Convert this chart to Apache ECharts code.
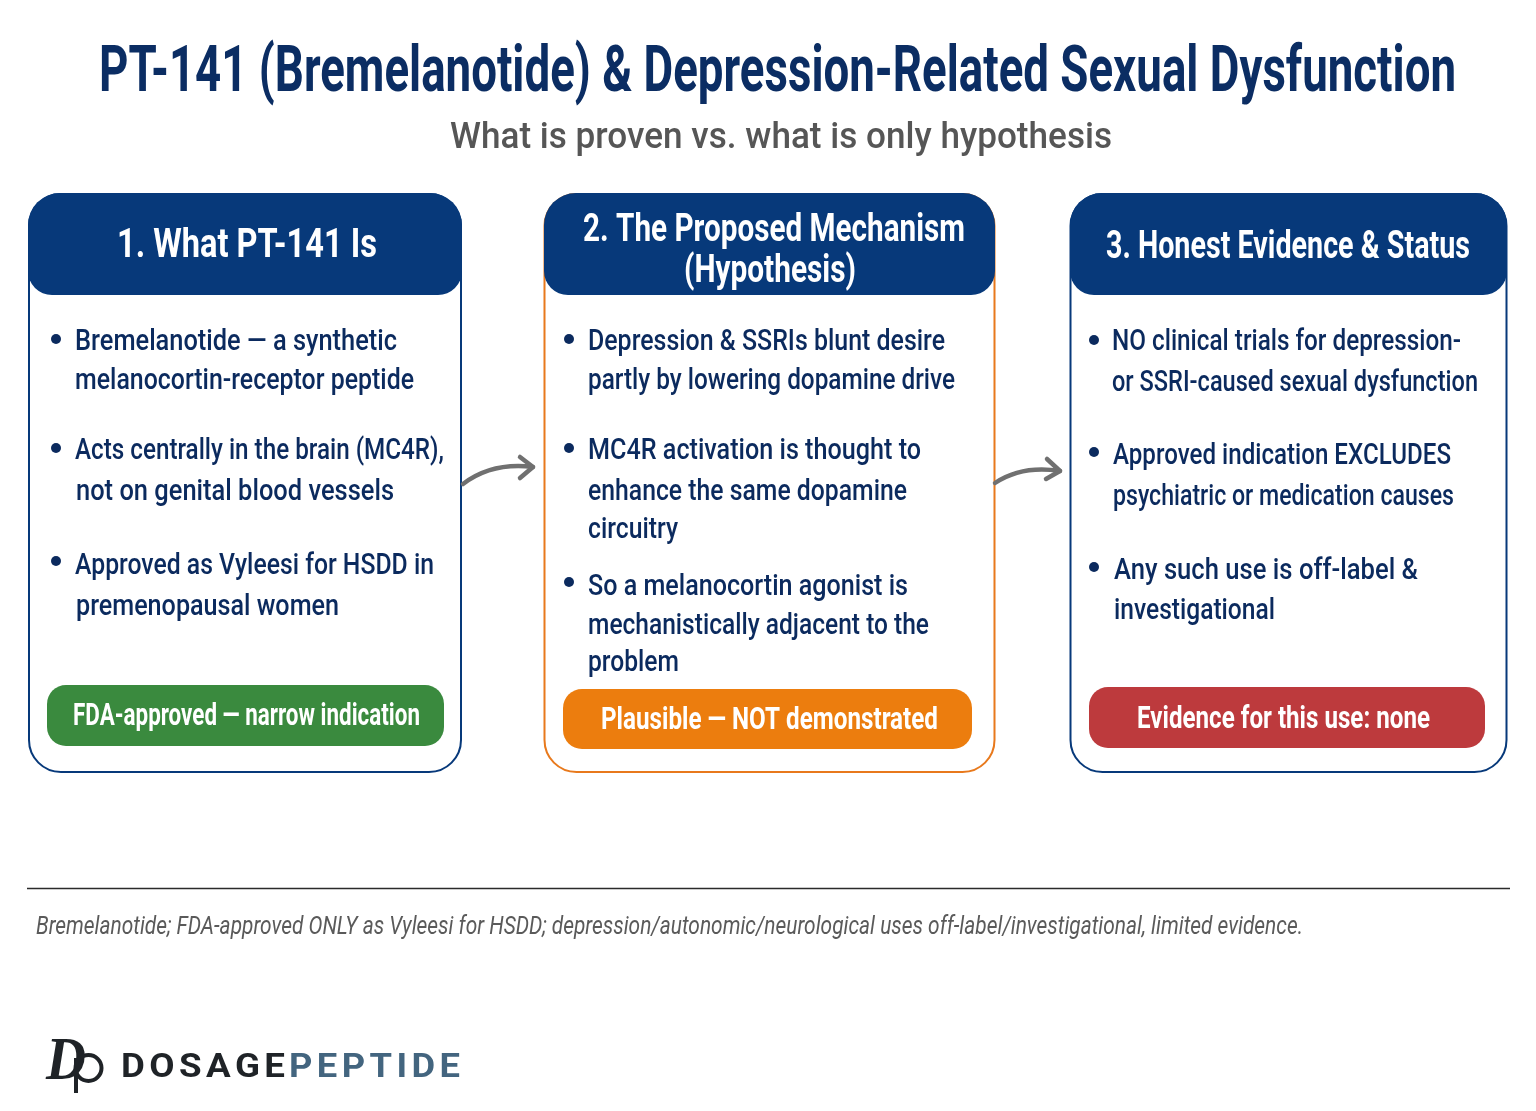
<!DOCTYPE html>
<html><head><meta charset="utf-8">
<style>html,body{margin:0;padding:0;background:#fff}#c{width:1536px;height:1111px}</style>
<script src="https://cdn.jsdelivr.net/npm/echarts@6/dist/echarts.min.js"></script>
</head><body><div id="c"></div>
<script>
const titleText = "PT-141 (Bremelanotide) & Depression-Related Sexual Dysfunction";
const subtitleText = "What is proven vs. what is only hypothesis";
const header1 = ["1. What PT-141 Is"];
const header2 = ["2. The Proposed Mechanism", "(Hypothesis)"];
const header3 = ["3. Honest Evidence & Status"];
const bullets1 = ["Bremelanotide — a synthetic","melanocortin-receptor peptide","Acts centrally in the brain (MC4R),","not on genital blood vessels","Approved as Vyleesi for HSDD in","premenopausal women"];
const bullets2 = ["Depression & SSRIs blunt desire","partly by lowering dopamine drive","MC4R activation is thought to","enhance the same dopamine","circuitry","So a melanocortin agonist is","mechanistically adjacent to the","problem"];
const bullets3 = ["NO clinical trials for depression-","or SSRI-caused sexual dysfunction","Approved indication EXCLUDES","psychiatric or medication causes","Any such use is off-label &","investigational"];
const verdicts = ["FDA-approved — narrow indication","Plausible — NOT demonstrated","Evidence for this use: none"];
const footnote = "Bremelanotide; FDA-approved ONLY as Vyleesi for HSDD; depression/autonomic/neurological uses off-label/investigational, limited evidence.";
const brandDark = "DOSAGE", brandBlue = "PEPTIDE", brandMark = "D";

const NAVY="#07397a", INK="#0b2a5e", ORANGE="#e8791c";
const mc=document.createElement('canvas').getContext('2d');
const els=[];
function fit(text,x0,x1,y,size,weight,color,family,style,spacing,zlevel){
  const f=(style?style+' ':'')+weight+' '+size+'px '+(family||'Roboto');
  mc.font=f;
  const sp=spacing||0;
  const w=mc.measureText(text).width+sp*(text.length-1);
  els.push({type:'text',x:x0,y:y,scaleX:(x1-x0)/w,originX:0,originY:0,silent:true,zlevel:zlevel||0,
    style:{text:text,font:f,fill:color,textAlign:'left',textVerticalAlign:'middle',textBaseline:'middle'}});
}
function card(x,y,w,h,stroke){
  els.push({type:'rect',shape:{x,y,width:w,height:h,r:32},style:{fill:'#fff',stroke,lineWidth:2}});
}
function head(x,y,w,h){
  els.push({type:'rect',shape:{x,y,width:w,height:h,r:[32,32,24,24]},style:{fill:NAVY}});
}
function pill(x,y,w,h,fill){
  els.push({type:'rect',shape:{x,y,width:w,height:h,r:19},style:{fill}});
}
function dot(x,y){els.push({type:'circle',shape:{cx:x,cy:y,r:5},style:{fill:INK}});}
function arrow(x0,y0,cx,cy,x1,y1,hx0,hy0,hx1,hy1){
  els.push({type:'bezierCurve',shape:{x1:x0,y1:y0,cpx1:cx,cpy1:cy,x2:x1,y2:y1},style:{fill:'none',stroke:'#707070',lineWidth:4.5,lineCap:'round'}});
  els.push({type:'polyline',shape:{points:[[hx0,hy0],[x1,y1],[hx1,hy1]]},style:{fill:'none',stroke:'#707070',lineWidth:4.5,lineCap:'round',lineJoin:'round'}});
}
fit(titleText,99,1456,75,64,'bold','#0b2d63');
fit(subtitleText,450,1112,139,36,'500','#565656');

card(29,194,432,578,NAVY); card(544.5,194,450,578,ORANGE); card(1070.5,194,436,578,NAVY);
head(28,193,434,102); head(544,193,451,102); head(1070,193,437,102);

fit(header1[0],117,377,247,40,'bold','#fff');
fit(header2[0],583,965,231,38,'bold','#fff');
fit(header2[1],684,856,272,38,'bold','#fff');
fit(header3[0],1106,1470,248,38,'bold','#fff');

const sz=29, wt='500', dy=3;
[[75,397,340],[75,414,379],[75,444,449],[76,394,490],[75,434,564],[76,339,605]].forEach((p,i)=>fit(bullets1[i],p[0],p[1],p[2]+dy,sz,wt,INK));
[[588,945,340],[588,955,379],[588,921,449],[588,907,490],[588,678,528],[588,908,585],[588,929,624],[588,679,661]].forEach((p,i)=>fit(bullets2[i],p[0],p[1],p[2]+dy,sz,wt,INK));
[[1112,1461,340],[1112,1478,381],[1113,1451,454],[1113,1454,495],[1114,1418,569],[1114,1275,609]].forEach((p,i)=>fit(bullets3[i],p[0],p[1],p[2]+dy,sz,wt,INK));
[[56,339],[56,448],[56,561],[569,339],[569,448],[569,582],[1094,340],[1094,452],[1094,567]].forEach(p=>dot(p[0],p[1]));

pill(47,685,397,61,'#3a8a3e'); pill(563,689,409,60,'#ec7d0e'); pill(1089,687,396,61,'#bd3a3d');
fit(verdicts[0],73,420,717,31,'bold','#fff');
fit(verdicts[1],601,938,721,31,'bold','#fff');
fit(verdicts[2],1137,1430,720,31,'bold','#fff');

arrow(463,484,492,462,533,467,520,457,520,478);
arrow(995,483,1022,465,1060,471,1047,459,1046,479);

els.push({type:'line',shape:{x1:27,y1:888.5,x2:1510,y2:888.5},style:{stroke:'#2b2b2b',lineWidth:1.5}});
fit(footnote,36,1303,927,26,'400','#5a5a5a','Roboto','italic');

fit(brandMark,46,86,1063,62,'bold','#1f2327','Liberation Serif','italic');
els.push({type:'circle',shape:{cx:88.5,cy:1068,r:13},style:{fill:'none',stroke:'#1f2327',lineWidth:4}});
els.push({type:'line',shape:{x1:76,y1:1058,x2:76,y2:1093},style:{stroke:'#1f2327',lineWidth:4}});
const SP=4;
fit(brandDark,121,285,1069,33,'bold','#1f2327','Roboto','',SP,1);
fit(brandBlue,289,460,1069,33,'bold','#43657f','Roboto','',SP,1);

const chart=echarts.init(document.getElementById('c'));
// the wordmark is letter-spaced: it is drawn on its own canvas layer with canvas letter spacing
const layer=chart.getZr().painter.getLayer(1);
if(layer&&layer.ctx) layer.ctx.letterSpacing=SP+'px';
chart.setOption({backgroundColor:'#fff',animation:false,graphic:{elements:els}});
</script></body></html>
